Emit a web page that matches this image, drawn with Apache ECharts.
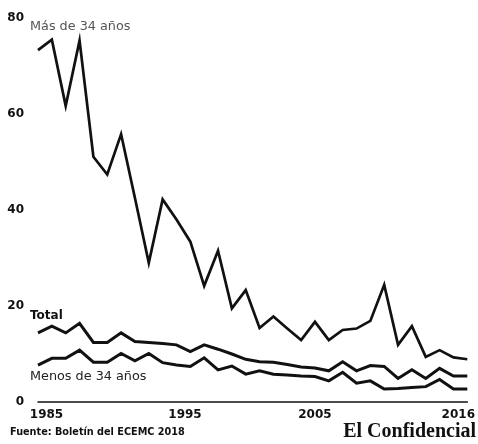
<!DOCTYPE html>
<html>
<head>
<meta charset="utf-8">
<script src="https://cdn.jsdelivr.net/npm/echarts@6/dist/echarts.min.js"></script>
<style>
  html, body { margin: 0; padding: 0; background: #fff; }
  #chart { width: 478px; height: 444px; }
</style>
</head>
<body>
<div id="chart"></div>
<script>
const years = [];
for (let y = 1985; y <= 2016; y++) years.push(y);

const masDe34 = [73.3, 75.5, 61.7, 75.3, 51.1, 47.4, 55.8, 42.5, 29.0, 42.2,
  38.0, 33.4, 24.2, 31.5, 19.5, 23.3, 15.4, 17.8, 15.3, 12.9,
  16.7, 12.9, 15.0, 15.3, 16.9, 24.4, 11.9, 15.8, 9.4, 10.8, 9.3, 8.9];
const total = [14.4, 15.8, 14.4, 16.4, 12.4, 12.4, 14.4, 12.6, 12.4, 12.2,
  11.9, 10.5, 11.9, 11.0, 10.0, 8.9, 8.4, 8.3, 7.8, 7.3,
  7.1, 6.5, 8.4, 6.5, 7.6, 7.4, 4.9, 6.7, 4.9, 7.0, 5.4, 5.4];
const menosDe34 = [7.7, 9.1, 9.1, 10.8, 8.3, 8.3, 10.1, 8.6, 10.1, 8.2,
  7.7, 7.4, 9.2, 6.7, 7.5, 5.8, 6.5, 5.8, 5.6, 5.4,
  5.3, 4.4, 6.2, 3.9, 4.4, 2.7, 2.8, 3.0, 3.2, 4.7, 2.7, 2.7];

const xTickYears = [1985, 1995, 2005, 2016];
const yTicks = [0, 20, 40, 60, 80];

// small horizontal nudges so the year labels sit like the print version
const labelNudge = { 1985: 'r', 1995: 'r', 2005: 'c', 2016: 'l' };

const pairs = arr => arr.map((v, i) => [years[i], v]);

const chart = echarts.init(document.getElementById('chart'));

const lineStyle = { color: '#111', width: 2.7, join: 'miter' };
const yearFont = { fontFamily: 'DejaVu Sans', fontWeight: 'bold', fontSize: 12, color: '#111' };

chart.setOption({
  animation: false,
  backgroundColor: '#fff',
  grid: { left: 38, right: 9, top: 18, bottom: 42 },
  xAxis: {
    type: 'value',
    min: 1985,
    max: 2016,
    splitLine: { show: false },
    axisTick: { show: false },
    axisLine: { show: true, onZero: false, lineStyle: { color: '#111', width: 1.5 } },
    axisLabel: {
      customValues: xTickYears,
      margin: 7,
      formatter: v => '{' + labelNudge[v] + '|' + v + '}',
      rich: {
        r: Object.assign({ padding: [0, 0, 0, 17] }, yearFont),
        c: Object.assign({ padding: [0, 0, 0, 0] }, yearFont),
        l: Object.assign({ padding: [0, 18, 0, 0] }, yearFont)
      }
    }
  },
  yAxis: {
    type: 'value',
    min: 0,
    max: 80,
    interval: 20,
    axisLine: { show: false },
    axisTick: { show: false },
    splitLine: { show: false },
    axisLabel: {
      customValues: yTicks,
      margin: 14,
      fontFamily: 'DejaVu Sans',
      fontWeight: 'bold',
      fontSize: 12,
      color: '#111'
    }
  },
  series: [
    { name: 'Más de 34 años', type: 'line', data: pairs(masDe34), symbol: 'none', lineStyle },
    { name: 'Total', type: 'line', data: pairs(total), symbol: 'none', lineStyle: Object.assign({}, lineStyle, { width: 3 }) },
    { name: 'Menos de 34 años', type: 'line', data: pairs(menosDe34), symbol: 'none', lineStyle: Object.assign({}, lineStyle, { width: 3 }) }
  ],
  graphic: [
    { type: 'text', left: 30, top: 20, style: { text: 'Más de 34 años', font: '12.8px "DejaVu Sans"', fill: '#555' } },
    { type: 'text', left: 30, top: 310, style: { text: 'Total', font: 'bold 12px "DejaVu Sans"', fill: '#111' } },
    { type: 'text', left: 30, top: 370, style: { text: 'Menos de 34 años', font: '12.8px "DejaVu Sans"', fill: '#222' } },
    { type: 'text', left: 10, top: 427, style: { text: 'Fuente: Boletín del ECEMC 2018', font: 'bold 9.7px "DejaVu Sans"', fill: '#111' } },
    { type: 'text', right: 2, top: 422, style: { text: 'El Confidencial', font: 'bold 20px "Liberation Serif"', fill: '#111' } }
  ]
});
</script>
</body>
</html>
